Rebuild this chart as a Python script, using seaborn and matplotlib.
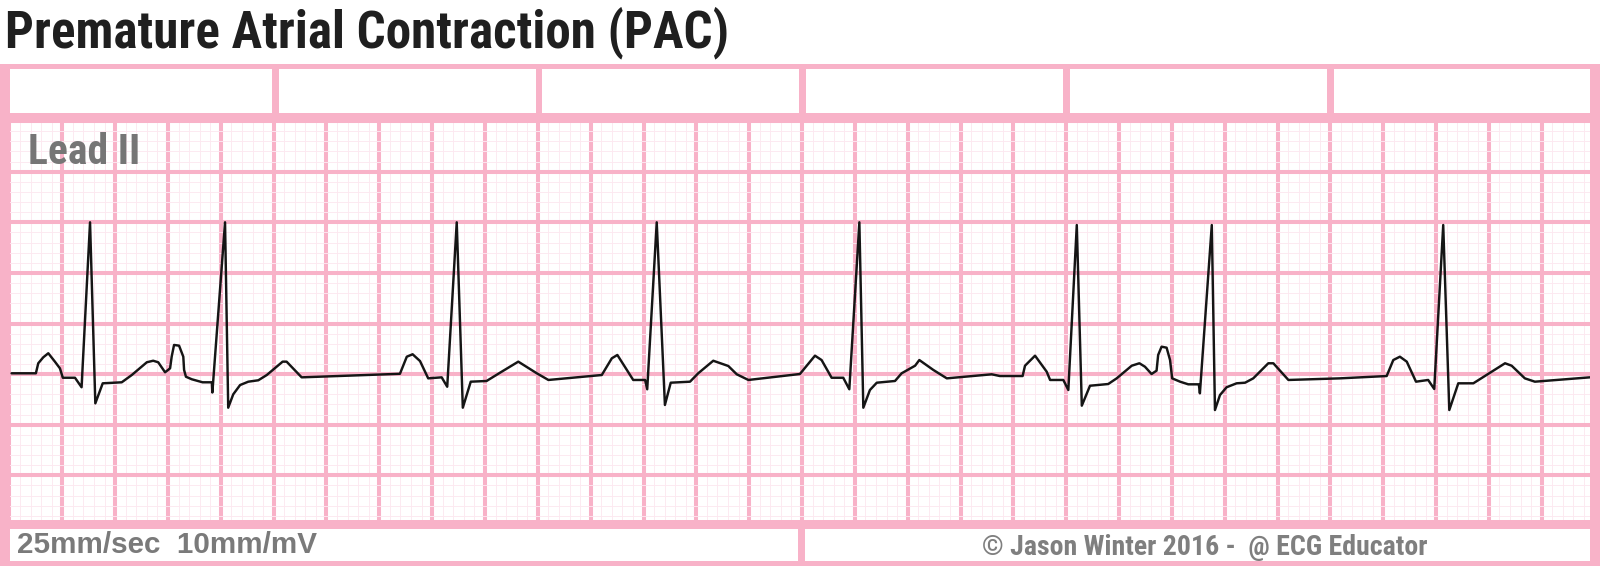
import os
import numpy as np
import pandas as pd
import matplotlib
matplotlib.use("Agg")
import matplotlib.pyplot as plt
from matplotlib.patches import Rectangle
from matplotlib import font_manager as fm
import seaborn as sns

# ---------------- data ----------------
TITLE = "Premature Atrial Contraction (PAC)"
LEAD = "Lead II"
SPEED = "25mm/sec  10mm/mV"
CREDIT = "© Jason Winter 2016 -  @ ECG Educator"

# Lead II trace: time in seconds (25 mm/s), amplitude in mV (10 mm/mV)
time_s = [
    0.008, 0.100, 0.109, 0.128, 0.147, 0.172, 0.191, 0.202, 0.248, 0.273,
    0.305, 0.325, 0.353, 0.425, 0.463, 0.520, 0.544, 0.563, 0.589, 0.608,
    0.614, 0.623, 0.642, 0.658, 0.661, 0.668, 0.690, 0.731, 0.766, 0.768,
    0.816, 0.828, 0.847, 0.873, 0.904, 0.942, 0.974, 1.034, 1.049, 1.106,
    1.478, 1.504, 1.526, 1.554, 1.585, 1.636, 1.657, 1.693, 1.716, 1.746,
    1.806, 1.857, 1.926, 1.996, 2.040, 2.242, 2.280, 2.301, 2.361, 2.406,
    2.414, 2.450, 2.481, 2.503, 2.576, 2.607, 2.664, 2.721, 2.753, 2.797,
    2.992, 3.049, 3.074, 3.112, 3.156, 3.179, 3.217, 3.232, 3.257, 3.283,
    3.352, 3.377, 3.428, 3.444, 3.497, 3.548, 3.718, 3.749, 3.835, 3.844,
    3.882, 3.926, 3.939, 3.989, 4.008, 4.040, 4.059, 4.090, 4.159, 4.191,
    4.248, 4.277, 4.298, 4.323, 4.342, 4.348, 4.361, 4.380, 4.393, 4.401,
    4.431, 4.462, 4.502, 4.506, 4.551, 4.563, 4.582, 4.607, 4.645, 4.677,
    4.708, 4.765, 4.784, 4.841, 5.036, 5.213, 5.238, 5.263, 5.289, 5.324,
    5.370, 5.393, 5.427, 5.450, 5.484, 5.541, 5.591, 5.661, 5.686, 5.736,
    5.774, 5.982,
]
lead_mv = [
    0.008, 0.008, 0.107, 0.166, 0.206, 0.123, 0.057, -0.036, -0.036, -0.130,
    1.500, -0.289, -0.091, -0.081, -0.009, 0.117, 0.132, 0.117, 0.018, 0.057,
    0.172, 0.288, 0.281, 0.172, 0.041, -0.026, -0.051, -0.081, -0.081, -0.182,
    1.500, -0.332, -0.200, -0.108, -0.075, -0.061, -0.009, 0.123, 0.123, -0.032,
    0.003, 0.172, 0.196, 0.129, -0.042, -0.032, -0.125, 1.500, -0.332, -0.075,
    -0.068, 0.014, 0.123, 0.008, -0.058, -0.009, 0.156, 0.189, -0.058, -0.058,
    -0.150, 1.500, -0.305, -0.085, -0.075, 0.008, 0.132, 0.080, -0.002, -0.058,
    0.001, 0.182, 0.139, -0.036, -0.036, -0.150, 1.500, -0.332, -0.157, -0.085,
    -0.068, 0.008, 0.083, 0.139, 0.041, -0.042, -0.002, -0.019, -0.019, 0.083,
    0.182, 0.024, -0.058, -0.058, -0.157, 1.473, -0.312, -0.115, -0.098, -0.042,
    0.083, 0.107, 0.073, 0.001, 0.034, 0.189, 0.271, 0.261, 0.139, -0.042,
    -0.075, -0.101, -0.101, -0.190, 1.473, -0.355, -0.207, -0.130, -0.091, -0.085,
    -0.042, 0.107, 0.107, -0.058, -0.042, -0.019, 0.139, 0.172, 0.123, -0.075,
    -0.058, -0.147, 1.473, -0.355, -0.091, -0.091, -0.009, 0.107, 0.083, -0.042,
    -0.075, -0.032,
]

SECONDS = 6.0                 # 30 large boxes of 0.2 s
MV_LOW, MV_HIGH = -1.5, 2.5   # 8 large boxes of 0.5 mV

# ---------------- style ----------------
PINK = "#F8B2C8"
MINOR = "#FCE8F0"
TRACE = "#151515"
TITLE_C = "#1f1f1f"
GRAY = "#767676"

sns.set_theme(style="white")
plt.rcParams["font.family"] = ["Liberation Sans", "DejaVu Sans"]


# pick a heavy condensed face (Impact-like look) if one is installed
def pick_condensed():
    prefs = ["notosans-condensedblack", "notosans-condensedextrabold",
             "robotocondensed-black", "robotocondensed-extrabold",
             "notosans-condensedbold", "robotocondensed-bold",
             "dejavusanscondensed-bold", "liberationsansnarrow-bold",
             "notosans-extracondensedblack", "notosans-semicondensedblack",
             "notosans-extracondensedbold", "notosans-semicondensedbold",
             "opensans-condensedbold", "opensanscondensed-bold"]
    files = {}
    for f in fm.fontManager.ttflist:
        files[os.path.splitext(os.path.basename(f.fname))[0].lower()] = f.fname
    for p in prefs:
        if p in files:
            return fm.FontProperties(fname=files[p])
    for f in fm.fontManager.ttflist:
        nm = (f.name + os.path.basename(f.fname)).lower()
        w = fm.weight_dict.get(f.weight, f.weight) if isinstance(f.weight, str) else f.weight
        if ("condensed" in nm or "narrow" in nm or f.stretch == "condensed") and int(w) >= 700:
            return fm.FontProperties(fname=f.fname)
    return fm.FontProperties(family=["Liberation Sans", "DejaVu Sans"], weight="bold")


COND = pick_condensed()
PLAIN_BOLD = fm.FontProperties(family=["Liberation Sans", "DejaVu Sans"], weight="bold")

W, H = 1600, 566
fig = plt.figure(figsize=(16, 5.66), dpi=100)
fig.patch.set_facecolor("white")


def fx(px):
    return px / W


def fy(py):
    return 1 - py / H


def band(x0, y0, x1, y1, color=PINK):
    fig.add_artist(Rectangle((fx(x0), fy(y1)), fx(x1) - fx(x0), fy(y0) - fy(y1),
                             transform=fig.transFigure, facecolor=color,
                             edgecolor="none", zorder=5))


# ---------------- ECG grid + trace ----------------
gl, gr, gt, gb = 9.46, 1594.6, 121.1, 525.9
ax = fig.add_axes([fx(gl), fy(gb), fx(gr) - fx(gl), fy(gt) - fy(gb)])
ax.set_facecolor("white")

df = pd.DataFrame({"t": time_s, "mv": lead_mv})
sns.lineplot(data=df, x="t", y="mv", ax=ax, sort=False, estimator=None,
             color=TRACE, linewidth=1.75, zorder=3)

ax.set_xlim(0, SECONDS)
ax.set_ylim(MV_LOW, MV_HIGH)
ax.set_xticks(np.arange(0, SECONDS + 1e-6, 0.2))
ax.set_xticks(np.arange(0, SECONDS + 1e-6, 0.04), minor=True)
ax.set_yticks(np.arange(MV_LOW, MV_HIGH + 1e-6, 0.5))
ax.set_yticks(np.arange(MV_LOW, MV_HIGH + 1e-6, 0.1), minor=True)
ax.grid(which="minor", color=MINOR, linewidth=0.65, zorder=0)
ax.grid(which="major", color=PINK, linewidth=2.9, zorder=1)
ax.set_axisbelow(True)
ax.tick_params(which="both", length=0, labelbottom=False, labelleft=False)
ax.set_xlabel("")
ax.set_ylabel("")
for s in ax.spines.values():
    s.set_visible(False)

# ---------------- pink frame ----------------
band(0, 64, 1600, 69)        # top edge
band(0, 113, 1600, 122)      # band above grid
band(0, 520, 1600, 529)      # band below grid
band(0, 561, 1600, 566)      # bottom edge
band(0, 64, 10, 566)         # left edge
band(1590, 64, 1600, 566)    # right edge
for cx in [275.5, 539, 802.5, 1066, 1330]:
    band(cx - 3.5, 69, cx + 3.5, 113)
band(798, 529, 805, 561)


# ---------------- text (sized to fit the reference widths) ----------------
renderer = fig.canvas.get_renderer()


def label(x, y, s, fp, color, width_px):
    t = fig.text(fx(x), fy(y), s, fontproperties=fp.copy(), color=color,
                 ha="left", va="baseline", zorder=6)
    t.set_fontsize(30)
    w = t.get_window_extent(renderer).width
    t.set_fontsize(30 * width_px / w)
    return t


label(5, 47, TITLE, COND, TITLE_C, 722)
label(28, 164, LEAD, COND, GRAY, 112)
label(17, 553, SPEED, PLAIN_BOLD, "#7a7a7a", 300)
label(982, 555, CREDIT, COND, "#7f7f7f", 445)

fig.savefig("out.png", dpi=100, facecolor="white")
